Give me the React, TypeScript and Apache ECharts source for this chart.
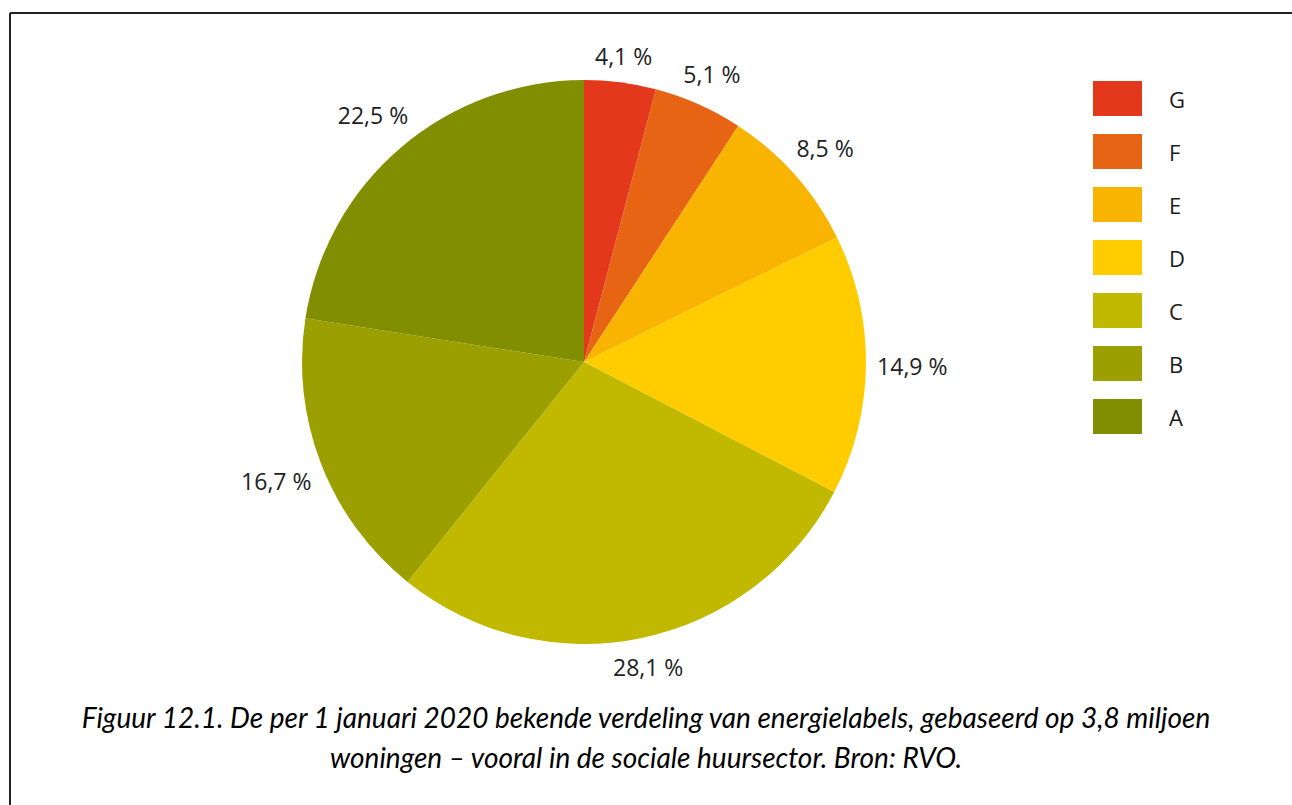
import React, { useEffect, useRef } from "react";
import * as echarts from "echarts";

const categories = ["G", "F", "E", "D", "C", "B", "A"];
const values = [4.1, 5.1, 8.5, 14.9, 28.1, 16.7, 22.5];
const colors = ["#E3381B", "#E86415", "#F8B400", "#FFCC00", "#C0B900", "#9BA000", "#818E00"];
const caption =
  "Figuur 12.1. De per 1 januari 2020 bekende verdeling van energielabels, gebaseerd op 3,8 miljoen\nwoningen – vooral in de sociale huursector. Bron: RVO.";

const CX = 584;
const CY = 362;
const R = 282;

export default function App() {
  const ref = useRef<HTMLDivElement>(null);
  useEffect(() => {
    document.body.style.margin = "0";
    const chart = echarts.init(ref.current!, null, { renderer: "svg" });
    const total = values.reduce((a, b) => a + b, 0);
    const cum: number[] = [];
    let acc = 0;
    values.forEach((v) => {
      cum.push(acc);
      acc += v;
    });
    chart.setOption({
      animation: false,
      backgroundColor: "#fff",
      legend: {
        orient: "vertical",
        left: 1093,
        top: 81,
        padding: 0,
        itemWidth: 49,
        itemHeight: 35,
        itemGap: 18,
        icon: "rect",
        data: categories,
        textStyle: {
          fontFamily: "Open Sans",
          fontSize: 22,
          color: "#1a1a1a",
          padding: [0, 0, 0, 22],
        },
      },
      graphic: [
        { type: "line", shape: { x1: 10, y1: 13, x2: 1292, y2: 13 }, style: { stroke: "#222", lineWidth: 2 } },
        { type: "line", shape: { x1: 10, y1: 13, x2: 10, y2: 805 }, style: { stroke: "#222", lineWidth: 2 } },
        {
          type: "text",
          x: 646,
          y: 737,
          style: {
            text: caption,
            align: "center",
            verticalAlign: "middle",
            fontFamily: "Lato",
            fontStyle: "italic",
            fontWeight: "normal",
            fontSize: 28,
            lineHeight: 40,
            fill: "#000",
          },
        },
      ],
      series: [
        {
          type: "pie",
          center: [CX, CY],
          radius: [0, R],
          startAngle: 90,
          clockwise: true,
          avoidLabelOverlap: false,
          silent: true,
          data: categories.map((c, i) => ({ name: c, value: values[i], itemStyle: { color: colors[i] } })),
          label: {
            show: true,
            position: "outside",
            formatter: (p: any) => `${String(p.value).replace(".", ",")} %`,
            fontFamily: "Open Sans",
            fontSize: 23,
            color: "#222",
          },
          labelLine: { show: false },
          labelLayout: (params: any) => {
            const i = params.dataIndex;
            const mid = ((cum[i] + values[i] / 2) / total) * Math.PI * 2;
            const s = Math.sin(mid);
            const c = Math.cos(mid);
            const w = params.labelRect.width;
            const h = params.labelRect.height;
            const ext = Math.abs(s) * (w / 2) + Math.abs(c) * (h / 2);
            const rr = R + ext + 11;
            return { x: CX + rr * s, y: CY - rr * c, align: "center", verticalAlign: "middle" };
          },
        },
      ],
    });
    return () => chart.dispose();
  }, []);
  return <div ref={ref} style={{ width: 1292, height: 805 }} />;
}
